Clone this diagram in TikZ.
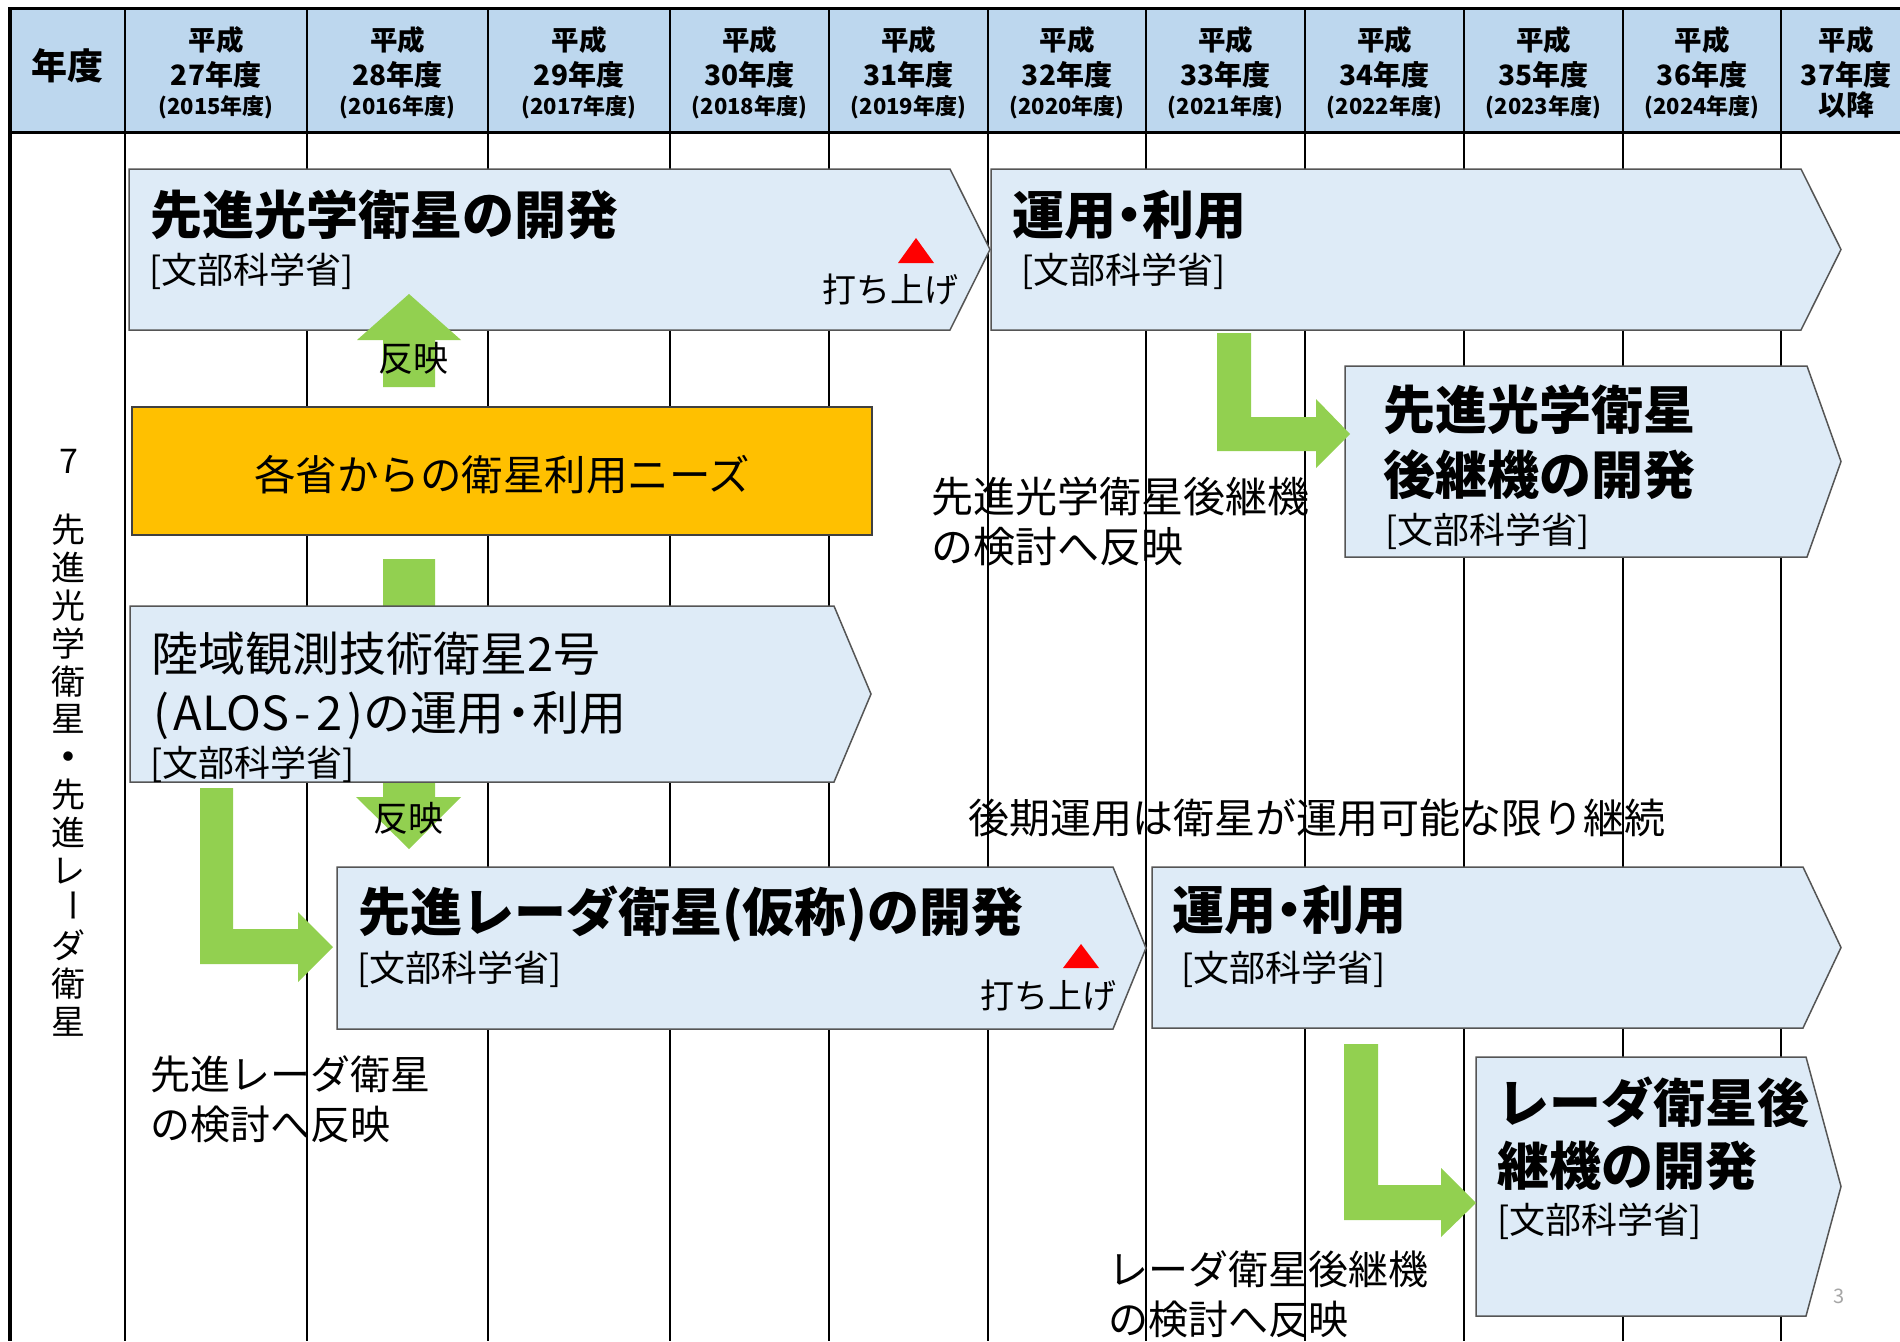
\documentclass[tikz,border=0pt]{standalone}
\usepackage{fontspec}
\setmainfont{Noto Sans CJK JP}
\definecolor{hdrfill}{HTML}{BDD7EE}
\definecolor{boxfill}{HTML}{DEEBF7}
\definecolor{boxline}{HTML}{555555}
\definecolor{needfill}{HTML}{FFC000}
\definecolor{arrowgreen}{HTML}{92D050}
\definecolor{launchred}{HTML}{FF0000}
\definecolor{pagegray}{HTML}{A6A6A6}
\newcommand{\hplate}[5]{\filldraw[plate] (#1,#2) -- (#3,#2) -- (#4,{(#2+#5)/2}) -- (#3,#5) -- (#1,#5) -- cycle;}
\tikzset{
  plate/.style={fill=boxfill, draw=boxline, line width=1.5pt},
  gridline/.style={line width=2.5pt, black},
  blockarrow/.style={fill=arrowgreen, draw=none},
  launchmark/.style={fill=launchred, draw=none},
  txt/.style={anchor=base west, inner sep=0pt, outer sep=0pt},
  ctxt/.style={anchor=base, inner sep=0pt, outer sep=0pt},
  ttl/.style={txt, font=\fontsize{52}{62}\selectfont\bfseries},
  mext/.style={txt, font=\fontsize{36}{44}\selectfont},
  launchtxt/.style={txt, font=\fontsize{34}{40}\selectfont},
  note/.style={txt, font=\fontsize{41}{50}\selectfont},
  hyear/.style={ctxt, font=\fontsize{27.5}{32}\selectfont\bfseries},
  hnum/.style={ctxt, font=\fontsize{28}{32}\selectfont\bfseries},
  hsmall/.style={ctxt, font=\fontsize{22}{26}\selectfont\bfseries},
  vtxt/.style={ctxt, font=\fontsize{34}{38}\selectfont},
}
\begin{document}
\begin{tikzpicture}[x=1pt,y=-1pt]
\useasboundingbox (0,0) rectangle (1900,1341);
\fill[white] (0,0) rectangle (1900,1341);
% header band
\fill[hdrfill] (10,8) rectangle (1900,132);
\draw[line width=3pt] (10,8) -- (1900,8);
\draw[line width=3pt] (10,132) -- (1900,132);
% grid
\draw[line width=4pt] (10,7) -- (10,1341);
\foreach \gx in {125,307,488,670,829,988,1146,1305,1464,1623,1781}
  \draw[gridline] (\gx,8) -- (\gx,1341);
% header texts
\node[ctxt, font=\fontsize{36}{40}\selectfont\bfseries] (hnendo) at (67,79) {年度};
\foreach \cx/\nn/\yy [count=\i] in {216/27/2015, 397.5/28/2016, 579/29/2017, 749.5/30/2018, 908.5/31/2019, 1067/32/2020, 1225.5/33/2021, 1384.5/34/2022, 1543.5/35/2023, 1702/36/2024}{
  \node[hyear] (ha\i) at (\cx,50) {平成};
  \node[hnum] (hb\i) at (\cx,85) {\nn 年度};
  \node[hsmall] (hc\i) at (\cx,114) {(\yy 年度)};
}
\node[hyear] (halast) at (1846,50) {平成};
\node[hnum] (hblast) at (1846,85) {37年度};
\node[hnum] (hclast) at (1846,115) {以降};
% left vertical label
\node[vtxt] (seven) at (69,473) {7};
\foreach \ch [count=\i from 0] in {先,進,光,学,衛,星,\textbf{・},先,進,レ}
  \node[vtxt] (vt\i) at (68,{542.6+37.85*\i}) {\ch};
\node[font=\fontsize{34}{38}\selectfont, rotate=-90, inner sep=0pt] (vt10) at (68,905) {ー};
\foreach \ch [count=\i from 11] in {ダ,衛,星}
  \node[vtxt] (vt\i) at (68,{542.6+37.85*\i}) {\ch};
% green arrow behind ALOS box
\fill[blockarrow] (383,559) -- (435,559) -- (435,797) -- (461,797) -- (409,849) -- (356,797) -- (383,797) -- cycle;
% boxes
\hplate{129}{169}{950}{990}{330}
\hplate{991}{169}{1801}{1841}{330}
\hplate{1345}{366}{1807}{1841}{557}
\hplate{130}{606}{834}{871}{782}
\hplate{337}{867}{1113}{1146}{1029}
\hplate{1152}{867}{1803}{1841}{1028}
\hplate{1476}{1057}{1806}{1841}{1316}
\filldraw[fill=needfill, draw=black!75, line width=1.5pt] (132,407) rectangle (872,535);
% green arrows
\fill[blockarrow] (383,387) -- (383,340) -- (357,340) -- (409,294) -- (461,340) -- (435,340) -- (435,387) -- cycle;
\fill[blockarrow] (200,788) -- (233,788) -- (233,929) -- (298,929) -- (298,912) -- (333,947) -- (298,982) -- (298,964) -- (200,964) -- cycle;
\fill[blockarrow] (1217,333) -- (1251,333) -- (1251,417) -- (1316,417) -- (1316,399) -- (1350,434) -- (1316,468) -- (1316,451) -- (1217,451) -- cycle;
\fill[blockarrow] (1344,1044) -- (1378,1044) -- (1378,1185) -- (1441,1185) -- (1441,1168) -- (1476,1203) -- (1441,1237) -- (1441,1220) -- (1344,1220) -- cycle;
% launch marks
\fill[launchmark] (898,263) -- (916,238) -- (934,263) -- cycle;
\fill[launchmark] (1063,968) -- (1081,944) -- (1099,968) -- cycle;
% box texts
\node[ttl] (t1) at (150,234) {先進光学衛星の開発};
\node[mext] (m1) at (149,283) {[文部科学省]};
\node[launchtxt] (l1) at (822,302.6) {打ち上げ};
\node[ttl] (t2) at (1012,234) {運用\kern-0.25em・\kern-0.25em利用};
\node[mext] (m2) at (1021,283) {[文部科学省]};
\node[ttl] (t3a) at (1383,429.5) {先進光学衛星};
\node[ttl] (t3b) at (1383,494) {後継機の開発};
\node[mext] (m3) at (1385,543) {[文部科学省]};
\node[ctxt, font=\fontsize{41.5}{48}\selectfont] (need) at (502,490) {各省からの衛星利用ニーズ};
\node[ctxt, font=\fontsize{35}{40}\selectfont] (r1) at (413,371) {反映};
\node[txt, font=\fontsize{47}{56}\selectfont] (t4a) at (151,671) {陸域観測技術衛星2号};
\node[txt, font=\fontsize{47}{56}\selectfont] (t4b) at (153,730) {(\kern0.1emALOS\kern0.12em-\kern0.12em2\kern0.1em)の運用\kern-0.2em・\kern-0.2em利用};
\node[mext] (m4) at (150,776) {[文部科学省]};
\node[ctxt, font=\fontsize{35}{40}\selectfont] (r2) at (408,831) {反映};
\node[ttl] (t5) at (358,931) {先進レーダ衛星(仮称)の開発};
\node[mext] (m5) at (357,981) {[文部科学省]};
\node[launchtxt] (l2) at (980,1008) {打ち上げ};
\node[ttl] (t6) at (1172,929) {運用\kern-0.25em・\kern-0.25em利用};
\node[mext] (m6) at (1181,981) {[文部科学省]};
\node[ttl] (t7a) at (1497,1122) {レーダ衛星後};
\node[ttl] (t7b) at (1497,1185) {継機の開発};
\node[mext] (m7) at (1497,1233) {[文部科学省]};
% free notes
\node[note] (n1) at (968,833) {後期運用は衛星が運用可能な限り継続};
\node[txt, font=\fontsize{42}{50}\selectfont] (n2a) at (931,512) {先進光学衛星後継機};
\node[txt, font=\fontsize{42}{50}\selectfont] (n2b) at (931,562) {の検討へ反映};
\node[txt, font=\fontsize{40}{50}\selectfont] (n3a) at (150,1089) {先進レーダ衛星};
\node[txt, font=\fontsize{40}{50}\selectfont] (n3b) at (150,1139) {の検討へ反映};
\node[txt, font=\fontsize{40}{50}\selectfont] (n4a) at (1108,1284) {レーダ衛星後継機};
\node[txt, font=\fontsize{40}{50}\selectfont] (n4b) at (1108,1334) {の検討へ反映};
\node[txt, font=\fontsize{20}{24}\selectfont, text=pagegray] (pg) at (1833,1303) {3};
\end{tikzpicture}
\end{document}
